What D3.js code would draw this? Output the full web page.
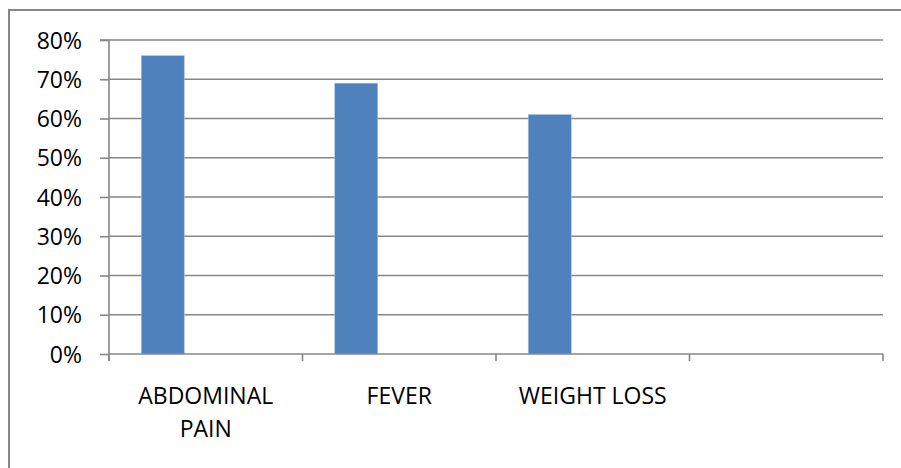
<!DOCTYPE html>
<html>
<head>
<meta charset="utf-8">
<script src="https://cdn.jsdelivr.net/npm/d3@7/dist/d3.min.js"></script>
<style>
  html, body { margin: 0; padding: 0; background: #fff; }
  svg { display: block; }
  text { font-family: "Open Sans", sans-serif; font-size: 23px; fill: #000; }
</style>
</head>
<body>
<svg id="chart" width="901" height="468"></svg>
<script>
// ---- data ----
const categories = ["ABDOMINAL PAIN", "FEVER", "WEIGHT LOSS", ""];
const seriesNames = ["Series1", "Series2", "Series3"];
const series1 = [0.76, 0.69, 0.61, null];
const series2 = [null, null, null, null];
const series3 = [null, null, null, null];
const yTicks = [0, 0.1, 0.2, 0.3, 0.4, 0.5, 0.6, 0.7, 0.8];

(function () {
const seriesValues = [series1, series2, series3];

const svg = d3.select("#chart");
const W = 901, H = 468;
const pLeft = 109, pRight = 883, pTop = 40, pBottom = 354;
const gridColor = "#878787";
const fontSize = 23;

// outer frame (top and left edges visible)
svg.append("rect")
  .attr("x", 9).attr("y", 10)
  .attr("width", W + 20).attr("height", H + 20)
  .attr("fill", "none").attr("stroke", gridColor).attr("stroke-width", 2);

const x = d3.scaleBand().domain(categories.map((c, i) => i)).range([pLeft, pRight]).paddingInner(0).paddingOuter(0);
const xs = d3.scaleBand().domain(seriesNames).range([0, x.bandwidth()]).paddingInner(0).paddingOuter(0.75);
const y = d3.scaleLinear().domain([0, 0.8]).range([pBottom, pTop]);

// gridlines
svg.append("g").selectAll("line").data(yTicks.filter(t => t > 0)).join("line")
  .attr("x1", pLeft).attr("x2", pRight)
  .attr("y1", d => y(d)).attr("y2", d => y(d))
  .attr("stroke", gridColor).attr("stroke-width", 1.6);

// bars
const barData = [];
seriesValues.forEach((vals, si) => {
  vals.forEach((v, ci) => {
    if (v != null) barData.push({ ci, s: seriesNames[si], v });
  });
});
svg.append("g").selectAll("rect").data(barData).join("rect")
  .attr("x", d => x(d.ci) + xs(d.s))
  .attr("width", xs.bandwidth())
  .attr("y", d => y(d.v))
  .attr("height", d => y(0) - y(d.v))
  .attr("fill", "#4F81BD")
  .attr("stroke", "#a9c0de").attr("stroke-width", 0.6);

// y axis
const yAxis = d3.axisLeft(y).tickValues(yTicks).tickFormat(d3.format(".0%")).tickSize(9).tickPadding(18);
const yg = svg.append("g").attr("transform", `translate(${pLeft},0)`).call(yAxis);
yg.select(".domain").attr("stroke", gridColor).attr("stroke-width", 1.6).attr("d", `M-9,${pTop}H0V${pBottom + 7}`);
yg.selectAll(".tick line").attr("stroke", gridColor).attr("stroke-width", 1.6);
yg.selectAll(".tick text").attr("font-family", "Open Sans").attr("font-size", fontSize).attr("fill", "#000").attr("dy", "0.35em");

// x axis
const xTickPos = d3.range(categories.length + 1).map(i => pLeft + i * x.step());
svg.append("line").attr("x1", pLeft).attr("x2", pRight).attr("y1", pBottom).attr("y2", pBottom)
  .attr("stroke", gridColor).attr("stroke-width", 1.6);
svg.append("g").selectAll("line").data(xTickPos).join("line")
  .attr("x1", d => d).attr("x2", d => d).attr("y1", pBottom).attr("y2", pBottom + 7)
  .attr("stroke", gridColor).attr("stroke-width", 1.6);

// x labels (wrapped)
const lbl = svg.append("g").selectAll("text").data(categories.map((c, i) => ({ c, i }))).join("text")
  .attr("text-anchor", "middle")
  .attr("x", d => x(d.i) + x.bandwidth() / 2)
  .attr("y", 404);
lbl.each(function(d) {
  const t = d3.select(this);
  const words = d.c === "ABDOMINAL PAIN" ? ["ABDOMINAL", "PAIN"] : [d.c];
  words.forEach((w, k) => {
    t.append("tspan").attr("x", x(d.i) + x.bandwidth() / 2).attr("dy", k === 0 ? 0 : 33).text(w);
  });
});
})();
</script>
</body>
</html>
